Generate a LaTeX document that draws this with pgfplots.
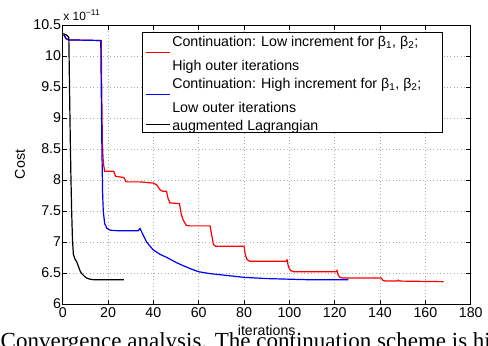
\documentclass[border=0pt]{standalone}
\usepackage{fontspec}
\setmainfont{Liberation Sans}
\newfontfamily\capfont{Liberation Serif}
\usepackage{pgfplots}
\pgfplotsset{compat=1.18}
\newcommand\ls{\rule[-4.9bp]{0pt}{18.4bp}}
\newcommand\lsl{\rule[-7.9bp]{0pt}{21.4bp}}
\begin{document}
\begin{tikzpicture}
\begin{axis}[
  scale only axis, width=408bp, height=279bp,
  xmin=0, xmax=180, ymin=6, ymax=10.5,
  xtick={0,20,...,180}, ytick={6,6.5,...,10.5},
  /pgf/number format/assume math mode=true,
  tick align=inside, major tick length=4.5bp,
  every tick/.style={black, line width=0.6bp},
  axis line style={line width=0.8bp},
  grid=major,
  major grid style={gray!65, line width=0.5bp, dash pattern=on 0.8bp off 2.6bp},
  tick label style={font=\fontsize{14.2bp}{17bp}\selectfont},
  yticklabel style={inner xsep=1.5bp},
  xticklabel style={yshift=-0.5bp},
  label style={font=\fontsize{14.2bp}{17bp}\selectfont},
  xlabel={iterations}, ylabel={Cost},
  xlabel style={at={(axis description cs:0.5,-0.0932)}, anchor=center},
  ylabel style={at={(axis description cs:-0.1047,0.5)}, anchor=center},
  legend cell align=left,
  legend image code/.code={\draw[#1, line width=1.2bp] (0bp,0bp) -- (24bp,0bp);},
  legend style={at={(rel axis cs:0.1936,0.9738)}, anchor=north west,
    draw=black, line width=0.8bp, fill=white,
    inner xsep=3.7bp, inner ysep=0bp, row sep=3.25bp, column sep=0bp,
    font=\fontsize{14.2bp}{21.65bp}\selectfont,
    nodes={inner xsep=1.3bp, inner ysep=0bp},
    cells={align=left}},
]
\addplot[red, line width=1.2bp] coordinates {
(0.5,10.34) (1.5,10.28) (2.5,10.26) (17.0,10.25) (17.2,9.5) (17.5,8.6) (17.9,8.29)
(18.5,8.14) (22.5,8.14) (23.3,8.06) (27,8.04) (28,7.97) (34,7.97) (40,7.95)
(41.5,7.92) (43,7.84) (44,7.82) (45.8,7.82) (46.5,7.7) (47.3,7.63) (51.5,7.62)
(52.3,7.45) (53.2,7.35) (54.5,7.27) (56,7.26) (65,7.26) (65.8,7.1) (66.5,6.96)
(67.5,6.93) (80,6.93) (80.6,6.79) (81.3,6.72) (82.5,6.69) (98.5,6.69) (99,6.71)
(99.6,6.6) (100.5,6.54) (102,6.52) (120.5,6.52) (121,6.54) (121.5,6.47)
(122.3,6.43) (123.5,6.42) (140.5,6.42) (141.3,6.38) (142.5,6.37) (147.5,6.37)
(148,6.385) (148.5,6.37) (168,6.36)
};
\addlegendentry{\ls Continuation: Low increment for β\textsubscript{1}, β\textsubscript{2};\\[2.25bp]\ls High outer iterations}
\addplot[blue, line width=1.2bp] coordinates {
(0.5,10.34) (1.5,10.28) (2.5,10.26) (16.8,10.25) (17.0,9.5) (17.3,8.5) (17.6,7.8)
(17.9,7.5) (18.5,7.3) (19.5,7.22) (21,7.19) (25,7.18) (33.3,7.18) (34.1,7.22)
(35,7.15) (37,7.0) (40,6.87) (43,6.8) (46,6.75) (50,6.67) (53,6.62) (57,6.56)
(60,6.52) (65,6.49) (70,6.47) (75,6.45) (80,6.43) (90,6.41) (100,6.40) (110,6.39)
(126,6.39)
};
\addlegendentry{\ls Continuation: High increment for β\textsubscript{1}, β\textsubscript{2};\kern16bp\\[2.25bp]\ls Low outer iterations}
\addplot[black, line width=1.2bp] coordinates {
(0.2,10.36) (1,10.35) (2,10.33) (2.7,10.3) (3.2,9.0) (3.6,8.1) (3.95,7.5)
(4.3,7.05) (4.7,6.8) (5.5,6.72) (6.2,6.68) (7,6.6) (7.7,6.53) (8.4,6.49)
(9.5,6.45) (10.5,6.42) (12,6.40) (14,6.39) (20,6.39) (27,6.39)
};
\addlegendentry{\lsl augmented Lagrangian}
\end{axis}
\node[anchor=base west, inner sep=0pt, font=\fontsize{12bp}{14bp}\selectfont]
  at ([shift={(0.5bp,5bp)}]current axis.north west) {x 10\textsuperscript{−11}};
\node[anchor=base west, inner sep=0pt, font=\capfont\fontsize{23bp}{27bp}\selectfont]
  at ([shift={(-62.2bp,-44bp)}]current axis.south west) {Convergence analysis. The continuation scheme is high};
\pgfresetboundingbox
\path[use as bounding box] ([shift={(-62.7bp,-42bp)}]current axis.south west) rectangle ([shift={(17.3bp,25bp)}]current axis.north east);
\end{tikzpicture}
\end{document}
